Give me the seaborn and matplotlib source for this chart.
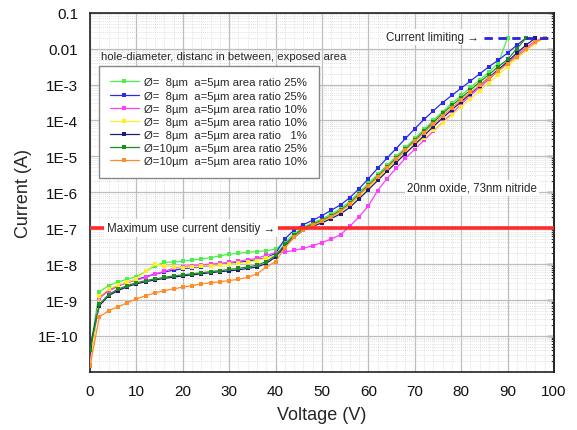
import numpy as np
import pandas as pd
import matplotlib
matplotlib.use("Agg")
import matplotlib.pyplot as plt
from matplotlib.ticker import MultipleLocator, LogLocator, NullFormatter
import seaborn as sns

# --- data (current as log10 of amperes) ---
voltage = [0, 2, 4, 6, 8, 10, 12, 14, 16, 18, 20, 22, 24, 26, 28, 30, 32, 34, 36, 38,
           40, 42, 44, 46, 48, 50, 52, 54, 56, 58, 60, 62, 64, 66, 68, 70, 72, 74, 76, 78,
           80, 82, 84, 86, 88, 90, 92, 94, 96, 98]

labels = [
    "Ø=  8µm  a=5µm area ratio 25%",
    "Ø=  8µm  a=5µm area ratio 25%",
    "Ø=  8µm  a=5µm area ratio 10%",
    "Ø=  8µm  a=5µm area ratio 10%",
    "Ø=  8µm  a=5µm area ratio   1%",
    "Ø=10µm  a=5µm area ratio 25%",
    "Ø=10µm  a=5µm area ratio 10%",
]
colors = ["#4cf04c", "#2b2bf0", "#ff3cff", "#ffee22", "#1c1c78", "#1e8c1e", "#ff8c28"]

log_i_lime = [-10.4, -8.77, -8.6, -8.5, -8.42, -8.35, -8.2, -8.05, -7.95, -7.94, -7.92, -7.88,
              -7.86, -7.82, -7.77, -7.72, -7.7, -7.67, -7.65, -7.63, -7.58, -7.4, -7.15, -6.97,
              -6.85, -6.74, -6.6, -6.45, -6.25, -6.0, -5.75, -5.5, -5.25, -5.0, -4.75, -4.5,
              -4.25, -4.0, -3.75, -3.52, -3.3, -3.08, -2.87, -2.65, -2.4, -1.7]
log_i_blue = [-10.5, -8.92, -8.72, -8.6, -8.5, -8.43, -8.35, -8.28, -8.22, -8.17, -8.13, -8.1,
              -8.07, -8.04, -8.01, -7.98, -7.95, -7.92, -7.88, -7.82, -7.7, -7.3, -7.05, -6.9,
              -6.78, -6.65, -6.5, -6.35, -6.15, -5.9, -5.62, -5.33, -5.05, -4.78, -4.5, -4.23,
              -3.97, -3.73, -3.5, -3.3, -3.1, -2.9, -2.7, -2.5, -2.32, -2.12, -1.9, -1.7]
log_i_magenta = [-10.8, -8.95, -8.75, -8.62, -8.52, -8.45, -8.37, -8.28, -8.2, -8.12, -8.07, -8.04,
                 -8.02, -8.0, -7.98, -7.95, -7.92, -7.88, -7.84, -7.75, -7.68, -7.66, -7.62, -7.56,
                 -7.49, -7.4, -7.3, -7.18, -6.95, -6.68, -6.38, -5.95, -5.62, -5.33, -5.05, -4.8,
                 -4.55, -4.3, -4.05, -3.8, -3.55, -3.3, -3.08, -2.85, -2.62, -2.4, -2.18, -1.97,
                 -1.78, -1.7]
log_i_yellow = [-10.85, -8.9, -8.7, -8.58, -8.5, -8.42, -8.2, -8.0, -8.05, -8.07, -8.1, -8.08,
                -8.06, -8.04, -8.02, -8.0, -7.98, -7.95, -7.9, -7.83, -7.75, -7.45, -7.2, -7.02,
                -6.9, -6.8, -6.68, -6.53, -6.35, -6.12, -5.87, -5.62, -5.38, -5.15, -4.92, -4.7,
                -4.48, -4.27, -4.07, -3.85, -3.62, -3.4, -3.17, -2.95, -2.73, -2.5, -2.27, -2.05,
                -1.85, -1.7]
log_i_navy = [-10.3, -9.16, -8.88, -8.74, -8.63, -8.55, -8.49, -8.44, -8.4, -8.36, -8.33, -8.3,
              -8.27, -8.24, -8.21, -8.19, -8.16, -8.12, -8.08, -7.98, -7.8, -7.5, -7.25, -7.05,
              -6.95, -6.85, -6.73, -6.6, -6.42, -6.18, -5.93, -5.67, -5.42, -5.17, -4.92, -4.67,
              -4.42, -4.17, -3.93, -3.7, -3.48, -3.25, -3.03, -2.8, -2.58, -2.36, -2.12, -1.9,
              -1.7]
log_i_green = [-10.4, -9.12, -8.85, -8.7, -8.6, -8.52, -8.46, -8.41, -8.37, -8.33, -8.3, -8.27,
               -8.24, -8.21, -8.18, -8.15, -8.12, -8.08, -8.03, -7.93, -7.76, -7.45, -7.2, -7.0,
               -6.88, -6.78, -6.65, -6.5, -6.3, -6.05, -5.8, -5.55, -5.3, -5.05, -4.8, -4.55,
               -4.3, -4.05, -3.8, -3.58, -3.37, -3.15, -2.93, -2.72, -2.5, -2.3, -2.0, -1.7]
log_i_orange = [-10.85, -9.47, -9.3, -9.19, -9.08, -8.97, -8.88, -8.8, -8.74, -8.69, -8.64, -8.6,
                -8.55, -8.52, -8.49, -8.46, -8.42, -8.37, -8.27, -8.08, -7.93, -7.55, -7.25, -7.05,
                -6.92, -6.8, -6.68, -6.53, -6.33, -6.08, -5.83, -5.58, -5.33, -5.08, -4.83, -4.58,
                -4.34, -4.1, -3.87, -3.65, -3.43, -3.22, -3.02, -2.82, -2.62, -2.42, -2.22, -2.02,
                -1.82, -1.7]

series = [log_i_lime, log_i_blue, log_i_magenta, log_i_yellow, log_i_navy, log_i_green, log_i_orange]

max_use_current = 1e-7
current_limit = 0.02
limit_span = [85, 100]

y_ticks = [1e-1, 1e-2, 1e-3, 1e-4, 1e-5, 1e-6, 1e-7, 1e-8, 1e-9, 1e-10]
y_tick_labels = ["0.1", "0.01", "1E-3", "1E-4", "1E-5", "1E-6", "1E-7", "1E-8", "1E-9", "1E-10"]

# --- style ---
sns.set_theme(style="white")
plt.rcParams['font.family'] = ['Liberation Sans', 'DejaVu Sans']

fig = plt.figure(figsize=(5.77, 4.31), dpi=100)
ax = fig.add_axes([0.156, 0.135, 0.804, 0.833])

for lab, col, logs in zip(labels, colors, series):
    df = pd.DataFrame({'Voltage': voltage[:len(logs)], 'Current': np.power(10.0, logs)})
    sns.lineplot(data=df, x='Voltage', y='Current', color=col, marker='s', markersize=2.6,
                 markeredgewidth=0, linewidth=0.9, label=lab, errorbar=None, ax=ax, zorder=3)

ax.set_yscale('log')
ax.set_xlim(0, 100)
ax.set_ylim(1e-11, 0.1)

# reference lines
ax.axhline(max_use_current, color='#ff2a2a', linewidth=2.6, zorder=4)
ax.hlines(current_limit, limit_span[0], limit_span[1], colors='#2424dd', linewidth=2,
          linestyles=(0, (3, 2)), zorder=4)

ax.text(3.7, max_use_current, 'Maximum use current densitiy \u2192', fontsize=8.3,
        ha='left', va='center', zorder=5, bbox=dict(fc='white', ec='none', pad=2))
ax.text(83.8, 0.021, 'Current limiting \u2192', fontsize=8.3, ha='right', va='center',
        zorder=5, bbox=dict(fc='white', ec='none', pad=1.5))
ax.text(68.3, 1.35e-6, '20nm oxide, 73nm nitride', fontsize=8.3, ha='left', va='center',
        zorder=5, bbox=dict(fc='white', ec='none', pad=1.5))
ax.text(0.024, 0.88, 'hole-diameter, distanc in between, exposed area', fontsize=8.2,
        transform=ax.transAxes, ha='left', va='center', zorder=5)

# ticks and grid
ax.set_xticks(range(0, 101, 10))
ax.xaxis.set_minor_locator(MultipleLocator(2))
ax.set_yticks(y_ticks)
ax.set_yticklabels(y_tick_labels)
ax.yaxis.set_minor_locator(LogLocator(base=10, subs=range(2, 10), numticks=30))
ax.yaxis.set_minor_formatter(NullFormatter())
ax.tick_params(which='major', direction='out', length=5, width=1, labelsize=11,
               color='#222222', labelcolor='#111111')
ax.tick_params(which='minor', direction='out', length=2.5, width=0.8, color='#222222')

right = ax.secondary_yaxis('right')
right.yaxis.set_minor_locator(LogLocator(base=10, subs=range(2, 10), numticks=30))
right.set_yticks(y_ticks)
right.tick_params(which='major', direction='in', length=5, width=1, labelright=False)
right.tick_params(which='minor', direction='in', length=2.5, width=0.8)
right.spines['right'].set_color('#222222')

ax.grid(which='major', color='#bdbdbd', linewidth=0.9, linestyle='-')
ax.grid(which='minor', color='#d6d6d6', linewidth=0.6, linestyle=(0, (1, 1.5)))
ax.set_axisbelow(True)

for s in ax.spines.values():
    s.set_color('#222222')
    s.set_linewidth(1.2)

ax.set_xlabel('Voltage (V)', fontsize=13, labelpad=6)
ax.set_ylabel('Current (A)', fontsize=13, labelpad=4)

leg = ax.legend(loc='upper left', bbox_to_anchor=(0.019, 0.852), borderaxespad=0,
                fontsize=8.2, frameon=True, fancybox=False, framealpha=1,
                edgecolor='#888888', handlelength=2.5, labelspacing=0.28,
                borderpad=1.0, handletextpad=0.5)
leg.get_frame().set_linewidth(1.0)

fig.savefig('out.png', dpi=100)
